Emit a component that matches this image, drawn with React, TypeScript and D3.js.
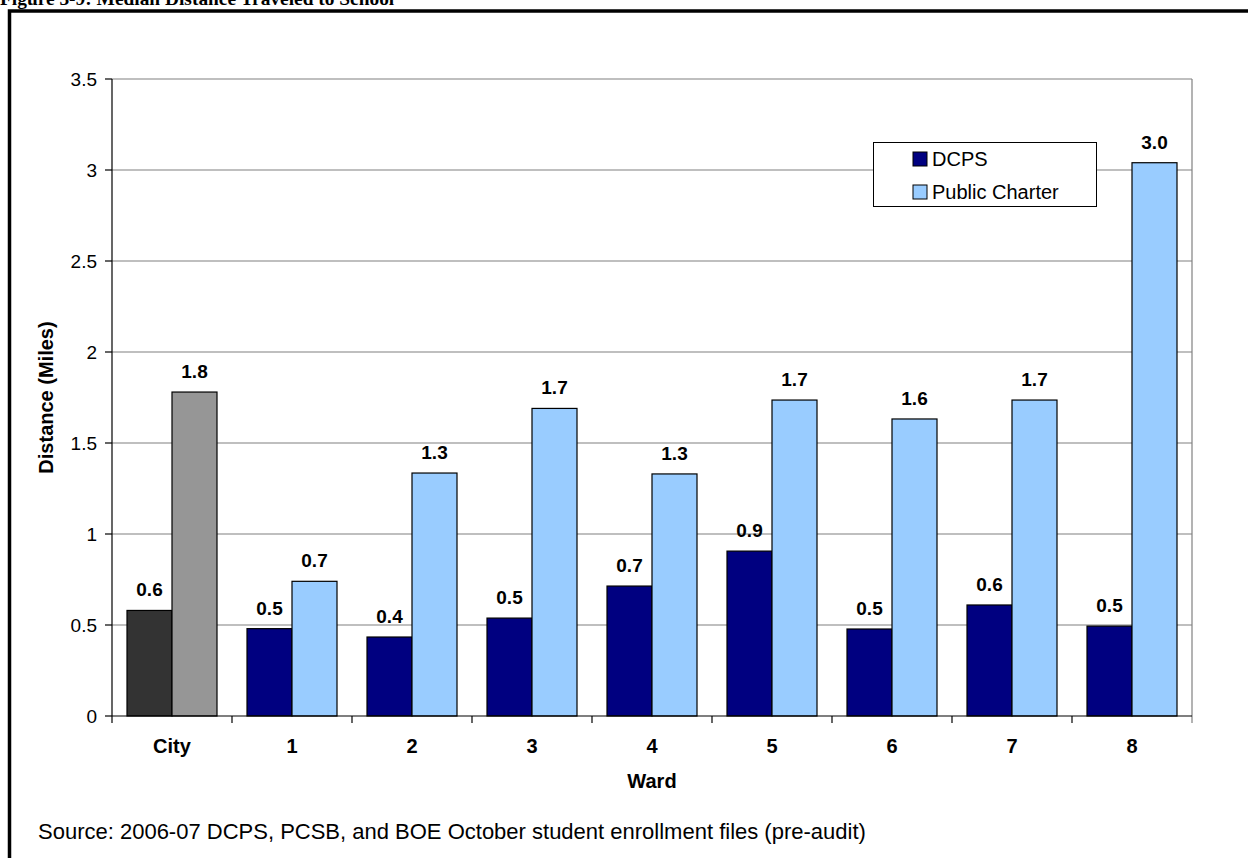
import React from 'react';
import * as d3 from 'd3';

const categories = ['City', '1', '2', '3', '4', '5', '6', '7', '8'];
const dcps = [0.58, 0.48, 0.434, 0.538, 0.714, 0.906, 0.478, 0.61, 0.494];
const charter = [1.78, 0.74, 1.335, 1.69, 1.33, 1.736, 1.632, 1.736, 3.04];
const yTicks = [0, 0.5, 1, 1.5, 2, 2.5, 3, 3.5];
const seriesNames = ['DCPS', 'Public Charter'];

const W = 1248;
const H = 858;
const FONT = '"Liberation Sans", Arial, sans-serif';
const margin = { top: 79, right: 56, bottom: 142, left: 112 };

const colors = {
  dcps: '#000080',
  charter: '#99ccff',
  cityDcps: '#333333',
  cityCharter: '#969696',
};

export default function App() {
  const x = d3.scaleBand<string>()
    .domain(categories)
    .range([margin.left, W - margin.right]);
  const inner = d3.scaleBand<string>()
    .domain(seriesNames)
    .range([15, x.bandwidth() - 15]);
  const y = d3.scaleLinear()
    .domain([0, 3.5])
    .range([H - margin.bottom, margin.top]);

  const x0 = margin.left;
  const x1 = W - margin.right;
  const y0 = y(0);

  const bars = categories.flatMap((c, i) => [
    {
      key: `${c}-d`, cat: c, s: seriesNames[0], v: dcps[i],
      fill: c === 'City' ? colors.cityDcps : colors.dcps,
    },
    {
      key: `${c}-c`, cat: c, s: seriesNames[1], v: charter[i],
      fill: c === 'City' ? colors.cityCharter : colors.charter,
    },
  ]);

  const boundaries = categories.map(c => x(c)!);

  return (
    <svg width={W} height={H} style={{ position: 'absolute', left: 0, top: 0, background: '#fff' }}>
      <text x={0} y={5} fontFamily='"Liberation Serif", "Times New Roman", serif' fontWeight="bold" fontSize={19.4}>
        Figure 3-9: Median Distance Traveled to School
      </text>
      <rect x={9.5} y={11} width={W + 20} height={H + 20} fill="none" stroke="#000" strokeWidth={3.5} />

      {/* gridlines */}
      {yTicks.filter(t => t > 0).map(t => (
        <line key={t} x1={x0} x2={x1} y1={y(t)} y2={y(t)} stroke="#808080" strokeWidth={1.2} />
      ))}
      <line x1={x1} x2={x1} y1={y(3.5)} y2={y0 + 7} stroke="#808080" strokeWidth={1.2} />

      {/* bars */}
      {bars.map(b => (
        <rect
          key={b.key}
          x={x(b.cat)! + inner(b.s)!}
          y={y(b.v)}
          width={inner.bandwidth()}
          height={y0 - y(b.v)}
          fill={b.fill}
          stroke="#000"
          strokeWidth={1.2}
        />
      ))}
      {bars.map(b => (
        <text
          key={b.key + '-l'}
          x={x(b.cat)! + inner(b.s)! + inner.bandwidth() / 2}
          y={y(b.v) - 14}
          textAnchor="middle"
          fontFamily={FONT}
          fontWeight="bold"
          fontSize={19}
        >
          {b.v.toFixed(1)}
        </text>
      ))}

      {/* y axis */}
      <line x1={x0} x2={x0} y1={y(3.5)} y2={y0} stroke="#000" strokeWidth={1.2} />
      {yTicks.map(t => (
        <g key={t}>
          <line x1={x0 - 7} x2={x0} y1={y(t)} y2={y(t)} stroke="#000" strokeWidth={1.2} />
          <text x={x0 - 15} y={y(t) + 6.5} textAnchor="end" fontFamily={FONT} fontSize={19}>
            {t}
          </text>
        </g>
      ))}
      <text
        transform={`translate(53,${(y(0) + y(3.5)) / 2}) rotate(-90)`}
        textAnchor="middle"
        fontFamily={FONT}
        fontWeight="bold"
        fontSize={20}
      >
        Distance (Miles)
      </text>

      {/* x axis */}
      <line x1={x0} x2={x1} y1={y0} y2={y0} stroke="#000" strokeWidth={1.2} />
      {boundaries.map((bx, i) => (
        <line key={i} x1={bx} x2={bx} y1={y0} y2={y0 + 7} stroke="#000" strokeWidth={1.2} />
      ))}
      {categories.map(c => (
        <text
          key={c}
          x={x(c)! + x.bandwidth() / 2}
          y={753}
          textAnchor="middle"
          fontFamily={FONT}
          fontWeight="bold"
          fontSize={20}
        >
          {c}
        </text>
      ))}
      <text x={(x0 + x1) / 2} y={788} textAnchor="middle" fontFamily={FONT} fontWeight="bold" fontSize={20}>
        Ward
      </text>

      {/* legend */}
      <rect x={873.5} y={142.5} width={223} height={64} fill="#fff" stroke="#000" strokeWidth={1} />
      {seriesNames.map((s, i) => (
        <g key={s} transform={`translate(913,${152 + i * 33})`}>
          <rect x={0} y={0} width={14} height={14} fill={i === 0 ? colors.dcps : colors.charter} stroke="#000" strokeWidth={1} />
          <text x={19} y={13.5} fontFamily={FONT} fontSize={20}>{s}</text>
        </g>
      ))}

      <text x={38} y={839} fontFamily={FONT} fontSize={22}>
        Source: 2006-07 DCPS, PCSB, and BOE October student enrollment files (pre-audit)
      </text>
    </svg>
  );
}
